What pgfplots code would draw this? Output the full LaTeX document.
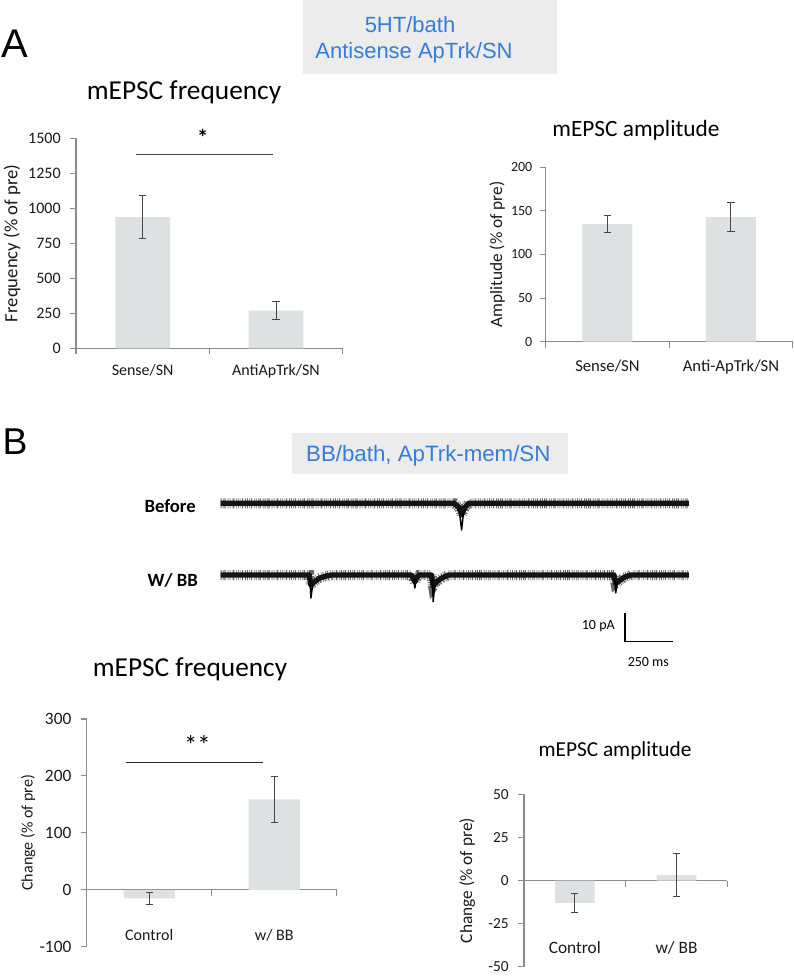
\documentclass[border=0pt]{standalone}
\usepackage{pgfplots}
\pgfplotsset{compat=1.18}
\usepackage{fontspec}
\setmainfont{Carlito}
\newfontfamily\arial{Liberation Sans}
\definecolor{barfill}{RGB}{221,225,225}
\definecolor{axgray}{RGB}{140,140,140}
\definecolor{errc}{RGB}{70,70,70}
\definecolor{tblue}{RGB}{52,125,220}
\definecolor{boxgray}{RGB}{236,236,236}
\definecolor{txt}{RGB}{25,25,25}
\newcommand\fs[1]{\fontsize{#1}{#1}\selectfont}

\pgfplotsset{
  /pgf/number format/assume math mode=true,
  /pgf/number format/1000 sep={},
  chart/.style={
    scale only axis, anchor=south west, clip=false,
    axis y line*=left,
    axis line style={axgray, line width=0.8pt},
    tick style={axgray, line width=0.8pt},
    tick align=outside,
    major tick length=4.5pt, minor tick length=4.5pt,
    xmin=0, xmax=2,
    xtick={0.5,1.5},
    major x tick style={draw=none},
    minor xtick={0,1,2},
    scaled y ticks=false,
    ticklabel style={text=txt},
    yticklabel style={xshift=-3.5pt},
    ylabel style={anchor=center, text=txt},
  },
  bars/.style={ybar, fill=barfill, draw=none,
    error bars/y dir=both, error bars/y explicit,
    error bars/error bar style={draw=errc, line width=0.75pt},
    error bars/error mark options={rotate=90, draw=errc, line width=0.75pt, mark size=2.7pt}},
  trace/.style={scale only axis, anchor=south west, width=351.2pt, height=34.1pt,
    xmin=0, xmax=2455, ymin=-12, ymax=4, hide axis, clip=false},
  fuzz/.style={black!60, line width=7.5pt, dash pattern=on 0.6pt off 1.1pt on 0.4pt off 0.7pt on 0.9pt off 1.5pt on 0.5pt off 0.9pt},
  core/.style={black!92, line width=4pt, line join=round},
  tip/.style={black, line width=1.1pt, line join=round},
}

\begin{document}
\begin{tikzpicture}[x=0.75pt,y=-0.75pt]
\useasboundingbox (0,0) rectangle (793,978);

% ---------- Panel A header ----------
\fill[boxgray] (302.7,0) rectangle (557.3,74);
\node[font=\arial\fs{16.5}, text=tblue, anchor=base] at (410,32.7) {5HT/bath};
\node[font=\arial\fs{16.5}, text=tblue, anchor=base] at (414,58.3) {Antisense ApTrk/SN};
\node[font=\arial\fs{30}, anchor=base] at (15,57) {A};

% ---------- A left ----------
\begin{axis}[chart, at={({76*0.75pt},{-348.3*0.75pt})}, width=200pt, height=157.5pt,
  ymin=0, ymax=1500, ytick={0,250,...,1500},
  axis x line*=bottom,
  yticklabel style={font=\fs{12}},
  xticklabel style={font=\fs{12}, yshift=-4pt},
  xticklabels={Sense/SN, AntiApTrk/SN},
  ylabel={Frequency (\% of pre)},
  ylabel style={font=\fs{14}, at={(axis description cs:-0.24,0.5)}}]
\addplot[bars, bar width=0.41] coordinates {(0.5,937) +- (0,151) (1.5,270) +- (0,63)};
\draw[errc, line width=0.9pt] (axis cs:0.45,1383) -- (axis cs:1.475,1383);
\node[font=\bfseries\fs{17}, anchor=base] at (axis cs:0.95,1452) {*};
\end{axis}
\node[font=\fs{20.5}, anchor=base] at (184,99.3) {mEPSC frequency};

% ---------- A right ----------
\begin{axis}[chart, at={({545.7*0.75pt},{-341.7*0.75pt})}, width=185.25pt, height=130.8pt,
  ymin=0, ymax=200, ytick={0,50,...,200},
  axis x line*=bottom,
  yticklabel style={font=\fs{10.5}, xshift=1.5pt},
  xticklabel style={font=\fs{12.5}, yshift=-6pt},
  xticklabels={Sense/SN, Anti-ApTrk/SN},
  ylabel={Amplitude (\% of pre)},
  ylabel style={font=\fs{13}, at={(axis description cs:-0.196,0.5)}}]
\addplot[bars, bar width=0.405] coordinates {(0.5,135) +- (0,10) (1.5,143) +- (0,17)};
\end{axis}
\node[font=\fs{17.5}, anchor=base] at (636,136) {mEPSC amplitude};

% ---------- Panel B header ----------
\node[font=\arial\fs{28}, anchor=base] at (15,454) {B};
\fill[boxgray] (291.7,432.7) rectangle (567.7,474);
\node[font=\arial\fs{16.7}, text=tblue, anchor=base] at (428.3,461.7) {BB/bath, ApTrk-mem/SN};
\node[font=\bfseries\fs{14}, anchor=base east, inner xsep=0pt] at (196,512.7) {Before};
\node[font=\bfseries\fs{14}, anchor=base east, inner xsep=0pt] at (198,586.7) {W/ BB};

% ---------- traces ----------
\begin{axis}[trace, at={({220.7*0.75pt},{-537.4*0.75pt})}]
\addplot[fuzz] coordinates {(0,0) (1225,0) (1250,-1.5) (1263,-4) (1280,-1.5) (1300,0) (2455,0)};
\addplot[core] coordinates {(0,0) (1225,0) (1250,-1.5) (1263,-4) (1280,-1.5) (1300,0) (2455,0)};
\addplot[tip] coordinates {(1250,-2) (1263,-9.4) (1274,-2.5)};
\end{axis}
\begin{axis}[trace, at={({220.7*0.75pt},{-609.1*0.75pt})}]
\addplot[fuzz] coordinates {(0,0) (465,0) (472,-3.5) (490,-2.5) (515,-1.2) (550,-0.4) (580,0)
  (1000,0) (1010,-1.2) (1018,-2.5) (1026,-1) (1040,0) (1105,0) (1114,-4) (1130,-2.5) (1160,-1) (1195,0)
  (2062,0) (2070,-3) (2090,-2) (2115,-0.8) (2150,0) (2455,0)};
\addplot[core] coordinates {(0,0) (465,0) (472,-3.5) (490,-2.5) (515,-1.2) (550,-0.4) (580,0)
  (1000,0) (1010,-1.2) (1018,-2.5) (1026,-1) (1040,0) (1105,0) (1114,-4) (1130,-2.5) (1160,-1) (1195,0)
  (2062,0) (2070,-3) (2090,-2) (2115,-0.8) (2150,0) (2455,0)};
\addplot[tip] coordinates {(468,-1) (473,-8.1) (482,-3.5)};
\addplot[tip] coordinates {(1012,-1.5) (1018,-4.6) (1024,-1.5)};
\addplot[tip] coordinates {(1109,-1) (1114,-9.4) (1122,-3.5)};
\addplot[tip] coordinates {(2066,-1) (2071,-6.3) (2080,-2.5)};
\end{axis}
\draw[black, line width=0.9pt] (625,613.3) -- (625,641.7) -- (672.7,641.7);
\node[font=\fs{10.5}, anchor=base] at (598.3,629.3) {10 pA};
\node[font=\fs{10.5}, anchor=base] at (648.3,666) {250 ms};

% ---------- B left ----------
\begin{axis}[chart, at={({86.7*0.75pt},{-946.7*0.75pt})}, width=187.5pt, height=170.8pt,
  ymin=-100, ymax=300, ytick={-100,0,...,300},
  axis x line*=middle,
  yticklabel style={font=\fs{13}},
  xticklabel style={font=\fs{12}, yshift=-22pt},
  xticklabels={Control, w/ BB},
  ylabel={Change (\% of pre)},
  ylabel style={font=\fs{12}, at={(axis description cs:-0.234,0.5)}}]
\addplot[bars, bar width=0.41] coordinates {(0.5,-15) +- (0,10) (1.5,159) +- (0,40)};
\draw[black!85, line width=0.9pt] (axis cs:0.314,223) -- (axis cs:1.413,223);
\node[font=\fs{20}, anchor=base] at (axis cs:0.885,237) {**};
\end{axis}
\node[font=\fs{20.5}, anchor=base] at (190,676.7) {mEPSC frequency};

% ---------- B right ----------
\begin{axis}[chart, at={({524*0.75pt},{-966.7*0.75pt})}, width=152.5pt, height=129.3pt,
  ymin=-50, ymax=50, ytick={-50,-25,...,50},
  axis x line*=middle,
  yticklabel style={font=\fs{11.5}},
  xticklabel style={font=\fs{13}, yshift=-37.5pt},
  xticklabels={Control, w/ BB},
  ylabel={Change (\% of pre)},
  ylabel style={font=\fs{13}, at={(axis description cs:-0.279,0.5)}}]
\addplot[bars, bar width=0.39] coordinates {(0.5,-13) +- (0,5.7) (1.5,3.2) +- (0,12.3)};
\end{axis}
\node[font=\fs{16}, anchor=base] at (615,756.7) {mEPSC amplitude};
\end{tikzpicture}
\end{document}
